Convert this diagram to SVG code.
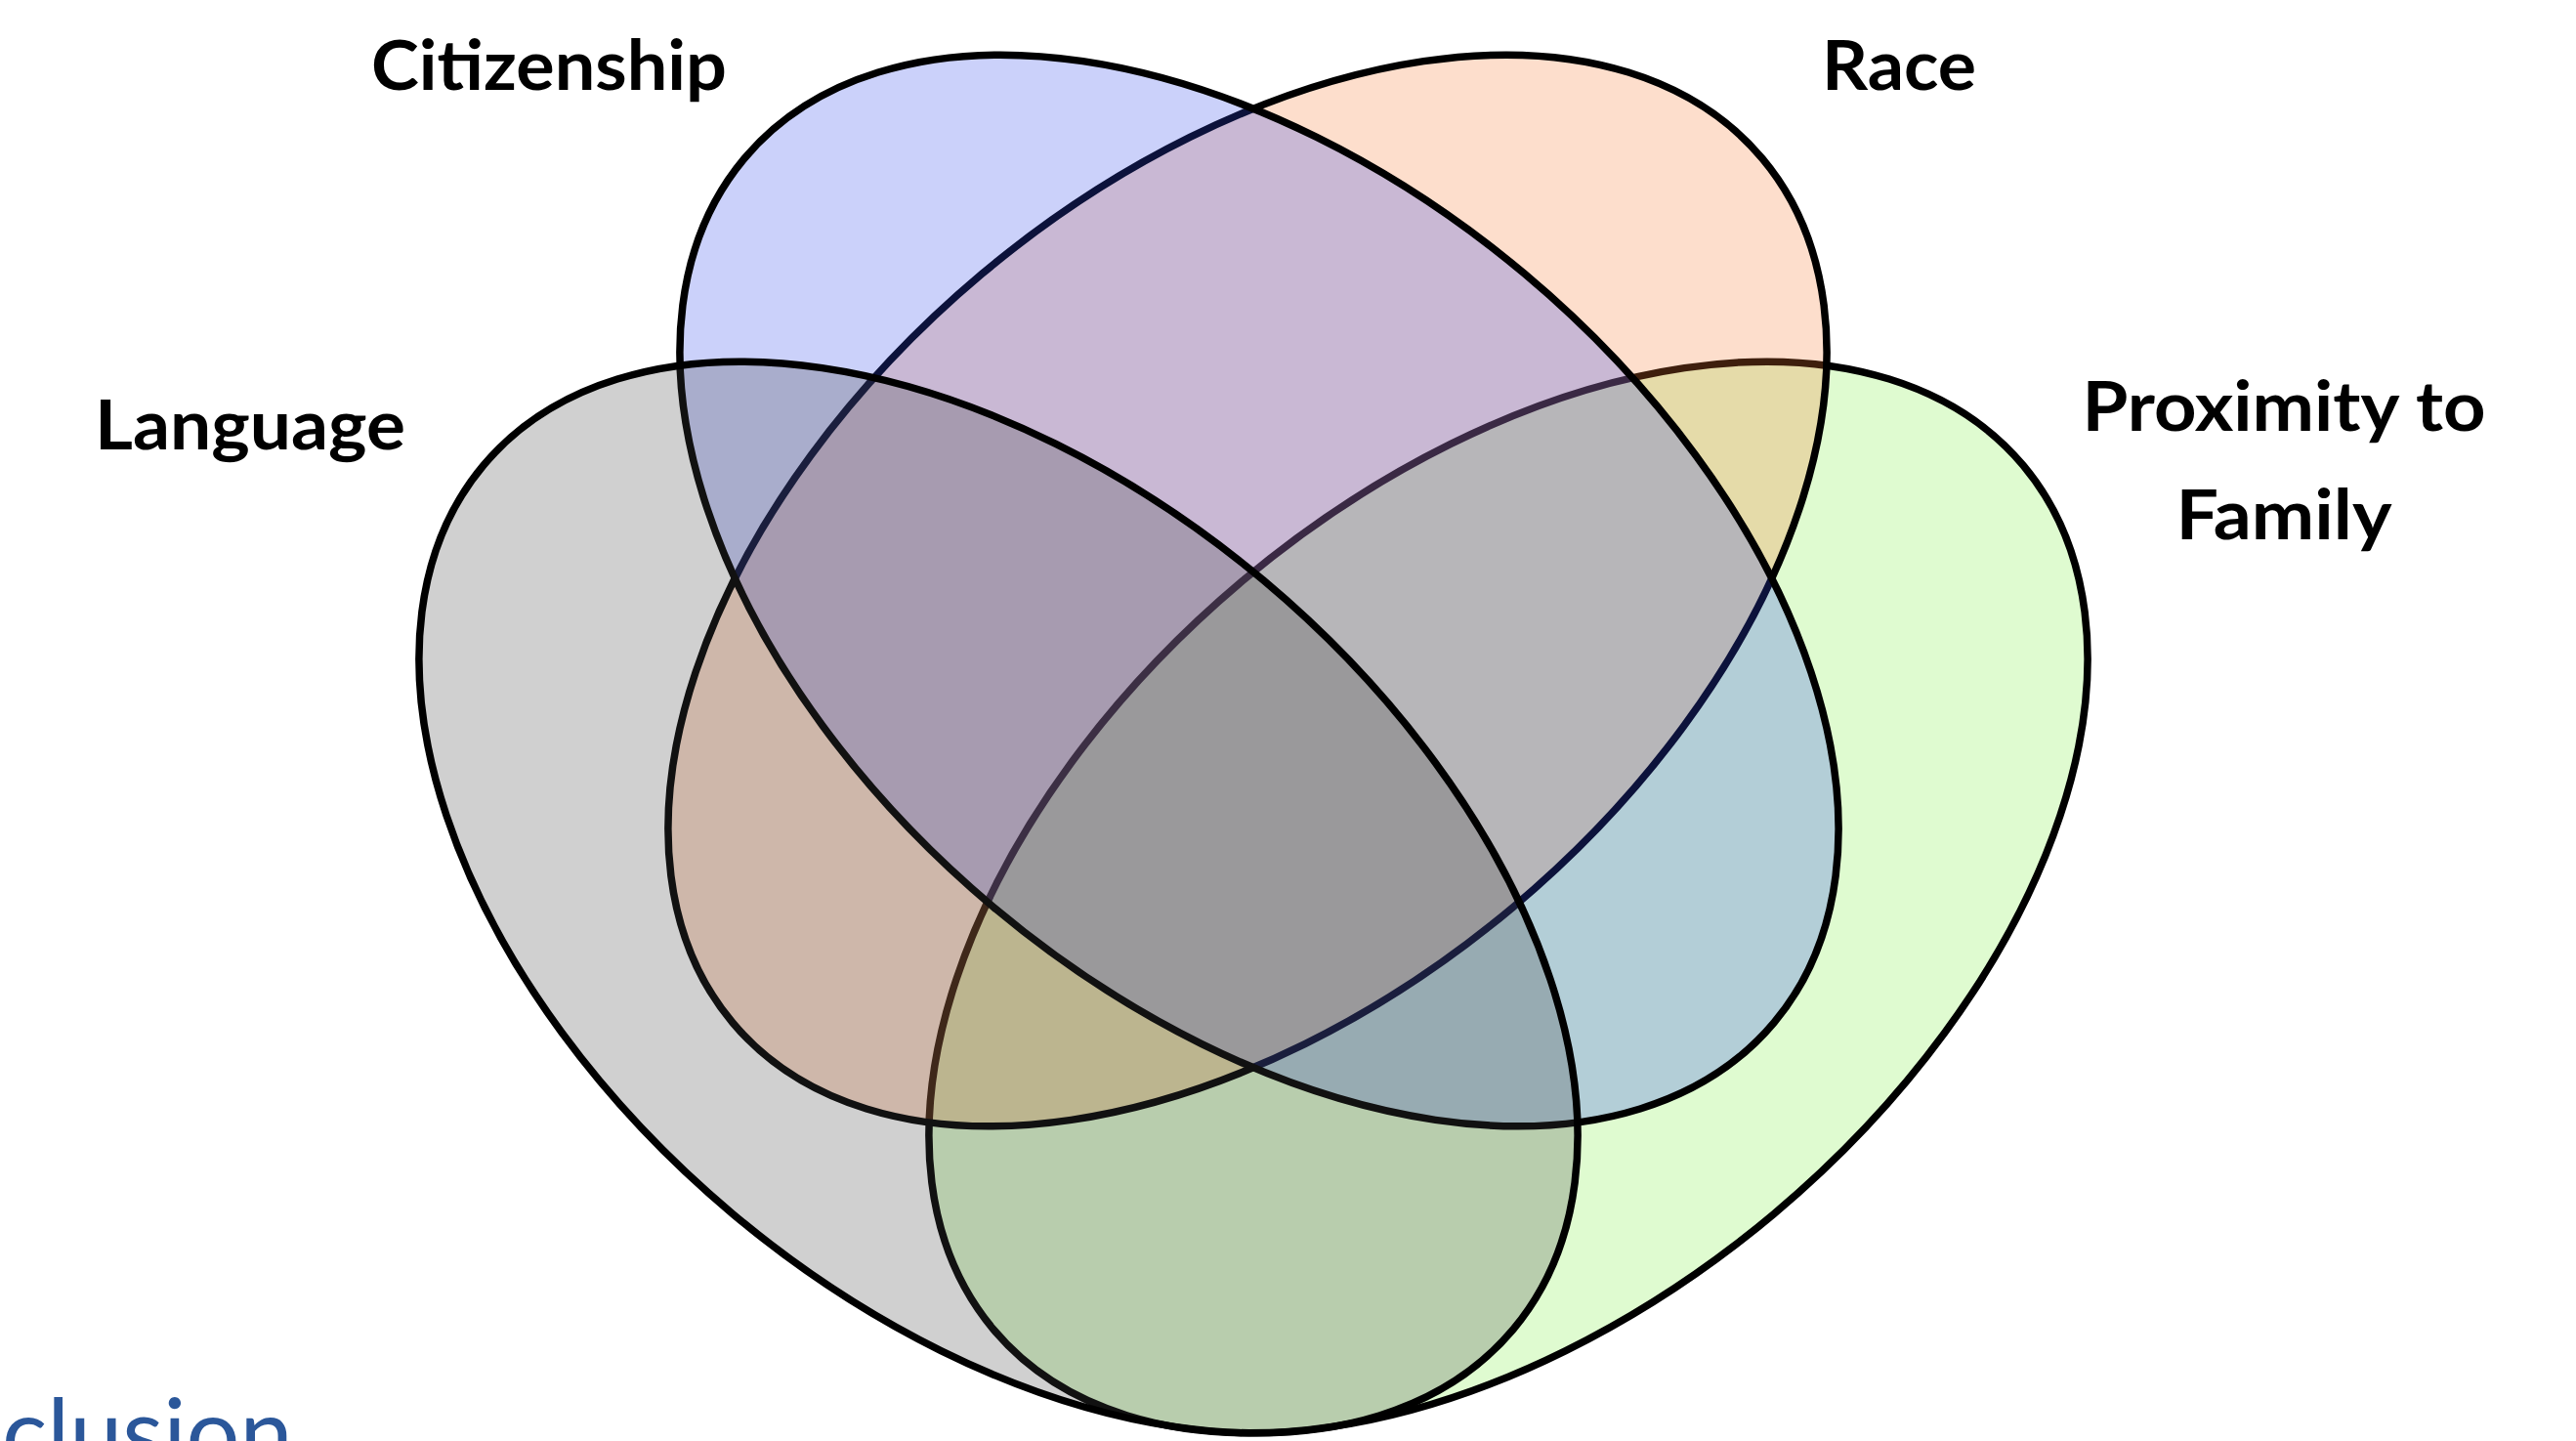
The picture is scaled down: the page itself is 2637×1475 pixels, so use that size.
<svg xmlns="http://www.w3.org/2000/svg" width="2637" height="1475" viewBox="0 0 2637 1475">
<style>
.set{stroke:#000;stroke-width:7.5;fill-opacity:0.25}
.lbl{font-family:Lato,"Liberation Sans",sans-serif;font-weight:700;font-size:70px;fill:#000;text-anchor:middle}
.title{font-family:Lato,"Liberation Sans",sans-serif;font-weight:400;font-size:97px;fill:#2B579A}
</style>
<rect width="2637" height="1475" fill="#fff"/>
<g id="set-family">
<ellipse class="set" cx="1544" cy="918.5" rx="688" ry="423" transform="rotate(-40 1544 918.5)" fill="#7FEF43"/>
</g>
<g id="set-race">
<ellipse class="set" cx="1277" cy="604.5" rx="688" ry="423" transform="rotate(-40 1277 604.5)" fill="#F77B33"/>
</g>
<g id="set-citizenship">
<ellipse class="set" cx="1289" cy="604.5" rx="688" ry="423" transform="rotate(40 1289 604.5)" fill="#2F47EB"/>
</g>
<g id="set-language">
<ellipse class="set" cx="1022" cy="918.5" rx="688" ry="423" transform="rotate(40 1022 918.5)" fill="#434343"/>
</g>
<g id="connectors"></g>
<g id="labels">
<text class="lbl" x="562" y="92" textLength="364" lengthAdjust="spacingAndGlyphs">Citizenship</text>
<text class="lbl" x="1944" y="92" textLength="158" lengthAdjust="spacingAndGlyphs">Race</text>
<text class="lbl" x="256" y="460" textLength="318" lengthAdjust="spacingAndGlyphs">Language</text>
<text class="lbl" x="2338" y="441" textLength="413" lengthAdjust="spacingAndGlyphs">Proximity to</text>
<text class="lbl" x="2338" y="552" textLength="221" lengthAdjust="spacingAndGlyphs">Family</text>
</g>
<text class="title" x="2" y="1501">clusion</text>
</svg>
